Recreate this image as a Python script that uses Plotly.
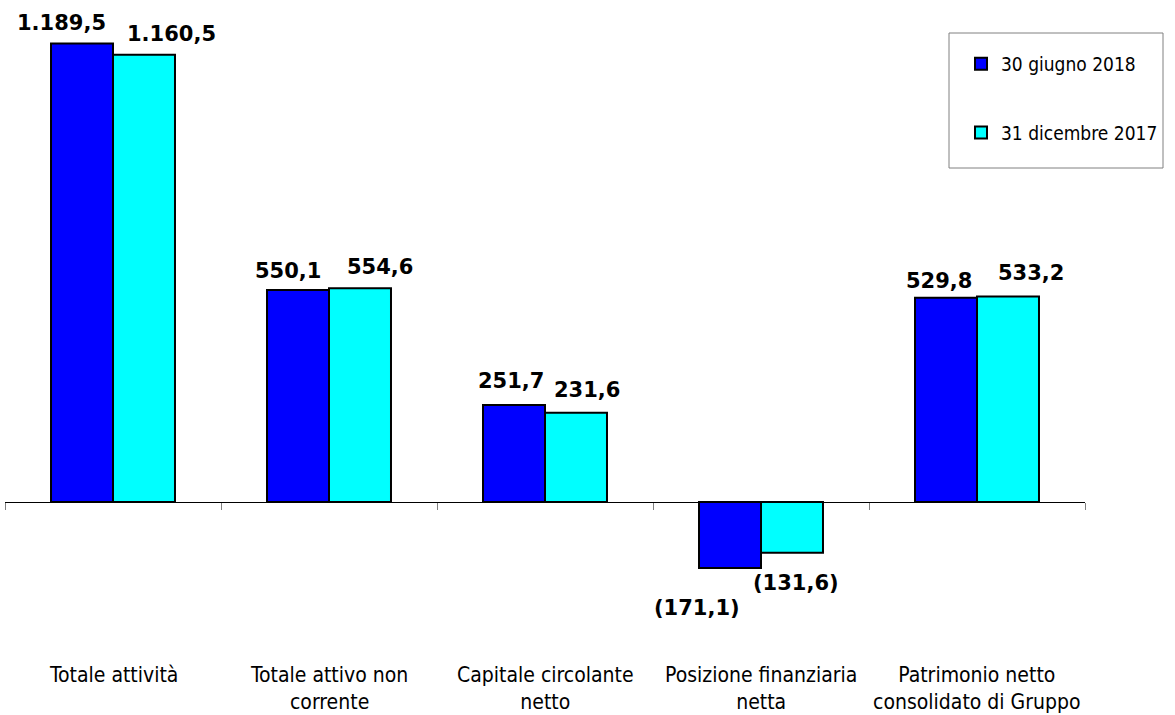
import plotly.graph_objects as go

# ---- data ----
categories = ["Totale attività", "Totale attivo non corrente", "Capitale circolante netto",
              "Posizione finanziaria netta", "Patrimonio netto consolidato di Gruppo"]
category_labels = ["Totale attività", "Totale attivo non<br>corrente", "Capitale circolante<br>netto",
                   "Posizione finanziaria<br>netta", "Patrimonio netto<br>consolidato di Gruppo"]
series_names = ["30 giugno 2018", "31 dicembre 2017"]
values_2018 = [1189.5, 550.1, 251.7, -171.1, 529.8]
values_2017 = [1160.5, 554.6, 231.6, -131.6, 533.2]

# ---- styling ----
COLORS = ["#0000FF", "#00FFFF"]
TEXT_FONT = "DejaVu Sans Condensed, DejaVu Sans"
LABEL_FONT = "DejaVu Sans"
Y_MIN, Y_MAX = -552.7, 1302.6
BAR_HALF_OFFSET = 31
# label offsets in pixels (dx, dy) relative to bar centre / bar end
LABEL_DX = [[-21, -10, -3, -33, -7], [27, 20, 11, 4, 23]]
LABEL_DY = [[21, 19, 24, -40, 17], [21, 21, 23, -30, 24]]


def fmt(v):
    s = f"{abs(v):,.1f}".replace(",", "X").replace(".", ",").replace("X", ".")
    return f"({s})" if v < 0 else s


fig = go.Figure()
for i, (name, vals) in enumerate(zip(series_names, [values_2018, values_2017])):
    fig.add_trace(go.Bar(
        x=categories, y=vals, name=name, legendgroup=f"g{i}",
        marker=dict(color=COLORS[i], line=dict(color="black", width=2)),
        hoverinfo="skip",
    ))

annotations = []
for i, vals in enumerate([values_2018, values_2017]):
    sign = -1 if i == 0 else 1
    for j, (cat, v) in enumerate(zip(categories, vals)):
        annotations.append(dict(
            x=cat, y=v, xref="x", yref="y", text=fmt(v), showarrow=False,
            xanchor="center", yanchor="middle",
            xshift=sign * BAR_HALF_OFFSET + LABEL_DX[i][j], yshift=LABEL_DY[i][j],
            font=dict(family=LABEL_FONT, size=21, color="black", weight="bold"),
        ))

for cat, lab in zip(categories, category_labels):
    annotations.append(dict(
        x=cat, y=(715 - 661) / 715, xref="x", yref="paper",
        text=lab, showarrow=False, xanchor="center", yanchor="top",
        font=dict(family=TEXT_FONT, size=21, color="black"),
    ))

zero_pos = (0 - Y_MIN) / (Y_MAX - Y_MIN)

fig.update_layout(
    width=1175, height=715,
    margin=dict(l=5, r=90, t=0, b=0),
    paper_bgcolor="white", plot_bgcolor="white",
    barmode="group", bargap=0.426, bargroupgap=0,
    showlegend=True,
    legend=dict(
        x=(961 - 5) / 1080, y=(715 - 45) / 715, xanchor="left", yanchor="top",
        xref="paper", yref="paper",
        traceorder="grouped", tracegroupgap=41,
        font=dict(family=TEXT_FONT, size=19, color="black"),
        bgcolor="rgba(0,0,0,0)", borderwidth=0,
    ),
    xaxis=dict(
        type="category", range=[-0.5, 4.5], anchor="free", position=zero_pos,
        showline=True, linecolor="black", linewidth=1,
        ticks="outside", tickson="boundaries", ticklen=7, tickcolor="#808080",
        showticklabels=False, showgrid=False, zeroline=False,
    ),
    yaxis=dict(range=[Y_MIN, Y_MAX], visible=False, showgrid=False, zeroline=False),
    annotations=annotations,
    shapes=[dict(type="rect", xref="paper", yref="paper",
                 x0=(949 - 5) / 1080, x1=(1163 - 5) / 1080,
                 y0=(715 - 168) / 715, y1=(715 - 33) / 715,
                 line=dict(color="#808080", width=1), fillcolor="rgba(0,0,0,0)")],
)

fig.write_html("out.html")
